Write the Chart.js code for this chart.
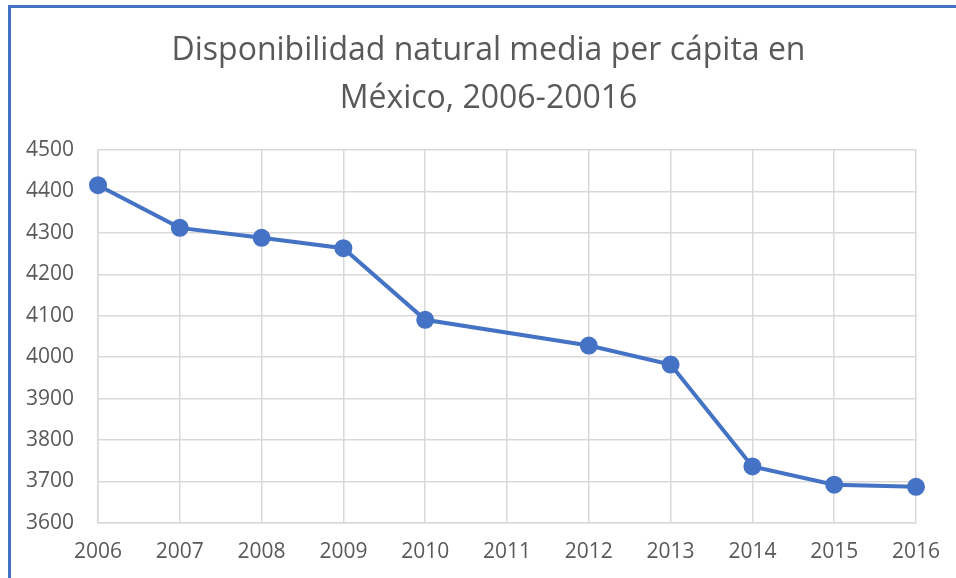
<!DOCTYPE html>
<html lang="es">
<head>
    <meta charset="UTF-8">
    <title>Disponibilidad natural media per cápita</title>
    <script src="https://cdn.jsdelivr.net/npm/chart.js@4/dist/chart.umd.min.js"></script>
    <style>
        body { margin: 0; background: #fff; }
        .wrap { position: relative; width: 956px; height: 578px; overflow: hidden; }
        .frame { position: absolute; left: 8px; top: 5px; width: 1000px; height: 700px;
                 border-top: 3px solid #4472C4; border-left: 3px solid #4472C4; }
        canvas { position: absolute; left: 0; top: 0; }
    </style>
</head>
<body>
<div class="wrap">
    <div class="frame"></div>
    <canvas id="chart" width="956" height="578"></canvas>
</div>
<script>
    const years = ['2006', '2007', '2008', '2009', '2010', '2011', '2012', '2013', '2014', '2015', '2016']
    // no hay dato para 2011
    const disponibilidad = [4415, 4312, 4288, 4263, 4090, null, 4028, 3982, 3736, 3692, 3687]
    const titleLines = ['Disponibilidad natural media per cápita en', 'México, 2006-20016']

    const gray = '#595959'
    const gridColor = '#d9d9d9'
    const blue = '#4472C4'

    new Chart(document.getElementById('chart'), {
        type: 'line',
        data: {
            labels: years,
            datasets: [{
                data: disponibilidad,
                borderColor: blue,
                backgroundColor: blue,
                borderWidth: 4,
                pointRadius: 7,
                pointHoverRadius: 7,
                spanGaps: true,
                tension: 0
            }]
        },
        options: {
            responsive: false,
            animation: false,
            // small right padding keeps the title centred like the original;
            // the room on the right comes from the x axis paddingRight below
            layout: { padding: { left: 26, right: 5, top: 0, bottom: -4 } },
            plugins: {
                legend: { display: false },
                tooltip: { enabled: false },
                title: {
                    display: true,
                    text: titleLines,
                    color: gray,
                    font: { family: 'Open Sans', size: 32, weight: 'normal', lineHeight: 1.5 },
                    padding: { top: 27, bottom: 27 }
                }
            },
            scales: {
                x: {
                    offset: false,
                    afterFit: scale => { scale.paddingRight = 40 },
                    grid: { color: gridColor, lineWidth: 1.5, drawTicks: false },
                    border: { color: gridColor, width: 1.5 },
                    ticks: { color: gray, font: { family: 'Open Sans', size: 21 }, padding: 17, maxRotation: 0 }
                },
                y: {
                    min: 3600,
                    max: 4500,
                    afterFit: scale => { scale.width = 72 },
                    grid: { color: gridColor, lineWidth: 1.5, drawTicks: false },
                    border: { color: gridColor, width: 1.5 },
                    ticks: {
                        stepSize: 100,
                        color: gray,
                        font: { family: 'Open Sans', size: 21 },
                        padding: 24,
                        callback: v => String(v)
                    }
                }
            }
        }
    })
</script>
</body>
</html>
